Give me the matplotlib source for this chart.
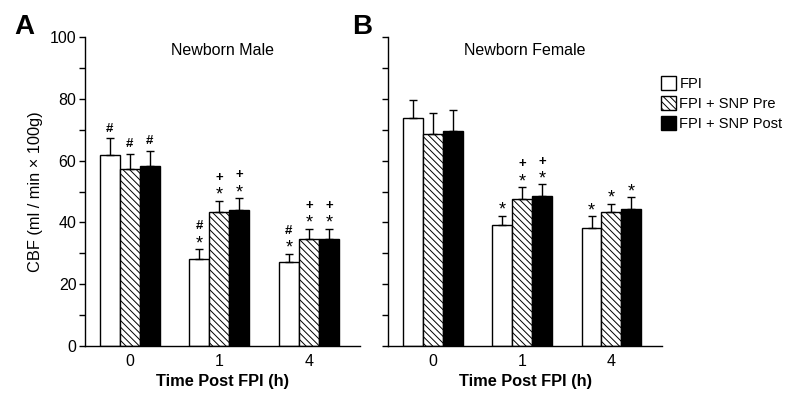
import matplotlib.pyplot as plt
import matplotlib.patches as mpatches
import numpy as np

plt.rcParams['font.family'] = ['Liberation Sans', 'DejaVu Sans']
plt.rcParams['hatch.linewidth'] = 0.7

# data
times = ['0', '1', '4']
groups = ['FPI', 'FPI + SNP Pre', 'FPI + SNP Post']

male_mean = [[61.9, 28.3, 27.3],
             [57.3, 43.3, 34.5],
             [58.3, 44.2, 34.5]]
male_sem = [[5.3, 3.0, 2.6],
            [4.8, 3.7, 3.5],
            [4.8, 3.6, 3.5]]

female_mean = [[73.7, 39.1, 38.2],
               [68.6, 47.6, 43.3],
               [69.6, 48.6, 44.5]]
female_sem = [[5.9, 3.0, 3.8],
              [6.9, 3.8, 2.7],
              [6.9, 3.7, 3.7]]

# significance marks (bottom to top)
male_marks = [[['#'], ['*', '#'], ['*', '#']],
              [['#'], ['*', '+'], ['*', '+']],
              [['#'], ['*', '+'], ['*', '+']]]
female_marks = [[[], ['*'], ['*']],
                [[], ['*', '+'], ['*']],
                [[], ['*', '+'], ['*']]]

faces = ['white', 'white', 'black']
hatches = ['', '\\\\\\\\\\', '']

fig = plt.figure(figsize=(8, 4.12), dpi=100)
axA = fig.add_axes([0.106, 0.160, 0.344, 0.750])
axB = fig.add_axes([0.485, 0.160, 0.343, 0.750])

x = np.arange(len(times))
w = 0.223


def draw(ax, means, sems, marks, title, ylabels):
    for i in range(3):
        xs = x + (i - 1) * w
        ax.bar(xs, means[i], w, color=faces[i], edgecolor='black',
               hatch=hatches[i], linewidth=1.0, zorder=2)
        ax.errorbar(xs, means[i], yerr=[np.zeros(3), sems[i]], fmt='none',
                    ecolor='black', elinewidth=1.0, capsize=3, capthick=1.0,
                    zorder=3)
        for j in range(3):
            top = means[i][j] + sems[i][j]
            for k, m in enumerate(marks[i][j]):
                dy = 7 + k * 9.5
                if m == '*':
                    ax.annotate(m, (xs[j], top), xytext=(0, dy - 3),
                                textcoords='offset points', ha='center',
                                va='center', fontsize=13)
                else:
                    ax.annotate(m, (xs[j], top), xytext=(0, dy),
                                textcoords='offset points', ha='center',
                                va='center', fontsize=9.5, fontweight='bold')
    ax.set_xlim(-0.5, 2.57)
    ax.set_ylim(0, 100)
    ax.set_xticks(x)
    ax.set_xticklabels(times, fontsize=11.5)
    ax.set_yticks(np.arange(0, 101, 10))
    if ylabels:
        ax.set_yticklabels(['0', '', '20', '', '40', '', '60', '', '80', '', '100'],
                           fontsize=11.5)
    else:
        ax.set_yticklabels([])
    ax.tick_params(axis='x', length=0, pad=6)
    ax.tick_params(axis='y', length=4, width=1, direction='out', pad=2)
    ax.spines['top'].set_visible(False)
    ax.spines['right'].set_visible(False)
    ax.spines['left'].set_linewidth(1.0)
    ax.spines['bottom'].set_linewidth(1.0)
    ax.set_xlabel('Time Post FPI (h)', fontsize=11.8, fontweight='bold', labelpad=3)
    ax.text(0.5, 0.955, title, transform=ax.transAxes, ha='center', va='center',
            fontsize=11.5)


draw(axA, male_mean, male_sem, male_marks, 'Newborn Male', True)
draw(axB, female_mean, female_sem, female_marks, 'Newborn Female', False)
axA.set_ylabel('CBF (ml / min \u00d7 100g)', fontsize=11.8, labelpad=5)

fig.text(0.018, 0.935, 'A', fontsize=20, fontweight='bold', va='center')
fig.text(0.440, 0.935, 'B', fontsize=20, fontweight='bold', va='center')

handles = [mpatches.Patch(facecolor=faces[i], edgecolor='black', hatch=hatches[i],
                          label=groups[i]) for i in range(3)]
fig.legend(handles=handles, loc='upper left', bbox_to_anchor=(0.826 - 0.007, 0.830),
           frameon=False, fontsize=10.5, handlelength=1.0, handleheight=1.1,
           handletextpad=0.25, labelspacing=0.35, borderaxespad=0)

plt.savefig('out.png', dpi=100)
